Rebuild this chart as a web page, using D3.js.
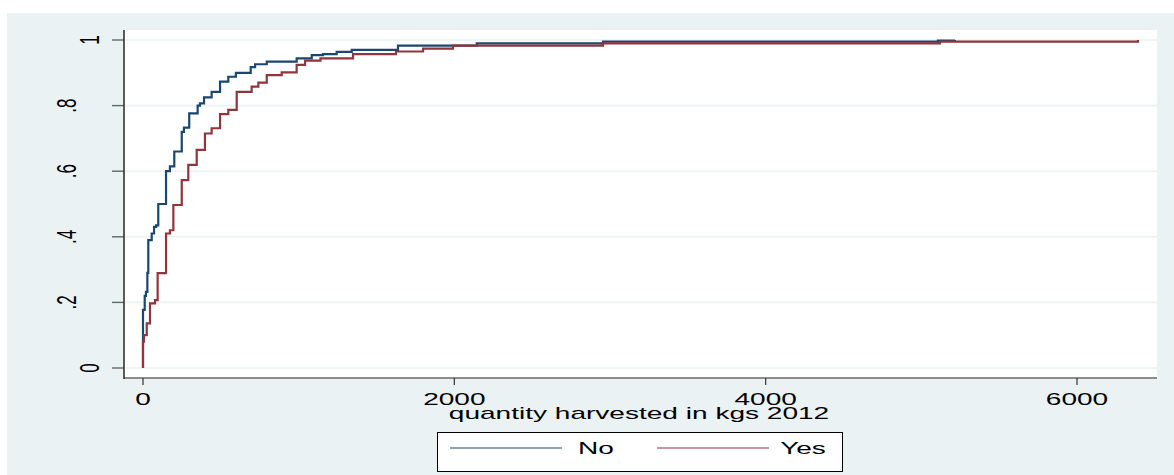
<!DOCTYPE html>
<html>
<head>
<meta charset="utf-8">
<script src="https://cdn.jsdelivr.net/npm/d3@7"></script>
<style>
  html, body { margin: 0; padding: 0; background: #ffffff; }
  svg { display: block; }
  text { font-family: "Liberation Sans", Arial, sans-serif; fill: #000; }
</style>
</head>
<body>
<svg id="chart" width="1174" height="475"></svg>
<script>
// ---- data ----
const seriesNames = ["No", "Yes"];
const seriesColors = ["#1a476f", "#90353b"];

const qtyNo = [0, 0, 11, 19, 28, 34, 56, 71, 84, 98, 148, 173, 201, 249, 263, 297, 351, 366, 392, 441, 495, 548, 597, 692, 720, 795, 987, 1084, 1156, 1244, 1341, 1638, 2144, 2955, 5107, 5216];
const cdfNo = [0, 0.177, 0.22, 0.232, 0.29, 0.39, 0.41, 0.43, 0.435, 0.50, 0.60, 0.615, 0.66, 0.72, 0.733, 0.776, 0.80, 0.807, 0.825, 0.842, 0.873, 0.888, 0.90, 0.917, 0.926, 0.934, 0.944, 0.954, 0.957, 0.964, 0.970, 0.983, 0.990, 0.995, 0.998, 1.0];

const qtyYes = [0, 0, 6, 24, 45, 77, 94, 148, 173, 195, 249, 291, 345, 398, 441, 495, 548, 602, 698, 741, 795, 891, 987, 1041, 1140, 1349, 1625, 1799, 1991, 2955, 5120, 6392];
const cdfYes = [0, 0.08, 0.10, 0.136, 0.197, 0.207, 0.289, 0.41, 0.42, 0.497, 0.573, 0.619, 0.665, 0.715, 0.731, 0.774, 0.787, 0.842, 0.858, 0.870, 0.893, 0.901, 0.924, 0.937, 0.944, 0.957, 0.965, 0.974, 0.983, 0.990, 0.995, 1.0];

const xTicks = [0, 2000, 4000, 6000];
const xTickLabels = ["0", "2000", "4000", "6000"];
const yTicks = [0, 0.2, 0.4, 0.6, 0.8, 1];
const yTickLabels = ["0", ".2", ".4", ".6", ".8", "1"];
const xTitle = "quantity harvested in kgs 2012";

// ---- drawing ----
const SX = 1.65;      // horizontal stretch of the reference text
const FS = 17;

const svg = d3.select("#chart");
const bg = "#eaf2f3";

svg.append("rect").attr("x", 7).attr("y", 13).attr("width", 1167).attr("height", 462).attr("fill", bg);

const plotL = 124, plotR = 1157, plotT = 30, plotB = 378;
svg.append("rect").attr("x", plotL).attr("y", plotT).attr("width", plotR - plotL).attr("height", plotB - plotT).attr("fill", "#ffffff");

const x = d3.scaleLinear().domain([0, 6000]).range([143, 1077]);
const y = d3.scaleLinear().domain([0, 1]).range([368, 40]);

// gridlines
svg.append("g").selectAll("line").data(yTicks).join("line")
  .attr("x1", plotL).attr("x2", plotR)
  .attr("y1", d => y(d)).attr("y2", d => y(d))
  .attr("stroke", bg).attr("stroke-width", 1.6);

// y axis ticks
svg.append("g").selectAll("line").data(yTicks).join("line")
  .attr("x1", plotL - 12).attr("x2", plotL)
  .attr("y1", d => y(d)).attr("y2", d => y(d))
  .attr("stroke", "#666").attr("stroke-width", 1.4);

// y labels (rotated, stretched)
svg.append("g").selectAll("text").data(yTicks).join("text")
  .attr("text-anchor", "middle")
  .attr("font-size", FS)
  .attr("transform", (d, i) => {
    const bx = 98.5 - (yTickLabels[i].length - 1) * 23;
    return `translate(${bx},${y(d)}) scale(${SX},1) rotate(-90)`;
  })
  .text((d, i) => yTickLabels[i]);

// x axis line
svg.append("line").attr("x1", plotL).attr("x2", plotR).attr("y1", plotB).attr("y2", plotB)
  .attr("stroke", "#8c8c8c").attr("stroke-width", 2);

// x ticks
svg.append("g").selectAll("line").data(xTicks).join("line")
  .attr("x1", d => x(d)).attr("x2", d => x(d))
  .attr("y1", plotB).attr("y2", plotB + 7)
  .attr("stroke", "#333").attr("stroke-width", 1.2);

svg.append("g").selectAll("text").data(xTicks).join("text")
  .attr("text-anchor", "middle")
  .attr("font-size", FS)
  .attr("transform", d => `translate(${x(d)},404.5) scale(${SX},1)`)
  .text((d, i) => xTickLabels[i]);

// y axis line
svg.append("line").attr("x1", plotL).attr("x2", plotL).attr("y1", plotT).attr("y2", plotB + 1)
  .attr("stroke", "#333").attr("stroke-width", 1.6);

// x title
svg.append("text").attr("text-anchor", "middle").attr("font-size", FS)
  .attr("transform", `translate(639,418.5) scale(${SX},1)`)
  .text(xTitle);

// curves
const series = [
  qtyNo.map((q, i) => [q, cdfNo[i]]),
  qtyYes.map((q, i) => [q, cdfYes[i]])
];
const line = d3.line().x(d => x(d[0])).y(d => y(d[1])).curve(d3.curveStepAfter);
svg.append("g").selectAll("path").data(series).join("path")
  .attr("d", line)
  .attr("fill", "none")
  .attr("stroke", (d, i) => seriesColors[i])
  .attr("stroke-width", 2.2);

// legend
const lg = svg.append("g");
lg.append("rect").attr("x", 437.5).attr("y", 432.5).attr("width", 405).attr("height", 39)
  .attr("fill", "#fff").attr("stroke", "#000").attr("stroke-width", 1);
const item = lg.selectAll("g").data(seriesNames).join("g")
  .attr("transform", (d, i) => `translate(${506 + 207 * i},0)`);
item.append("line").attr("x1", -56).attr("x2", 56).attr("y1", 448).attr("y2", 448)
  .attr("stroke", (d, i) => seriesColors[i]).attr("stroke-width", 1.2);
item.append("text").attr("text-anchor", "middle").attr("font-size", FS)
  .attr("transform", `translate(90,453.5) scale(${SX},1)`)
  .text(d => d);
</script>
</body>
</html>
